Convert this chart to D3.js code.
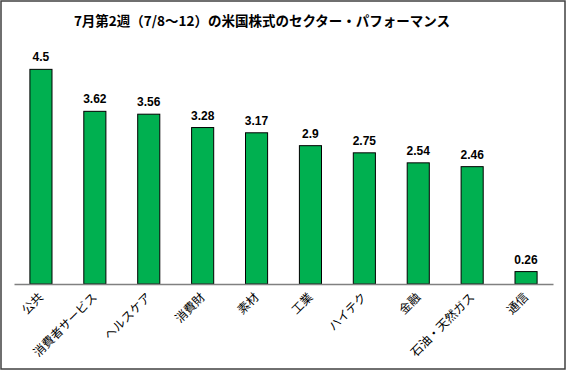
<!DOCTYPE html>
<html>
<head>
<meta charset="utf-8">
<script src="https://cdn.jsdelivr.net/npm/d3@7"></script>
<style>
  body { margin: 0; background: #fff; }
  svg text { font-family: "Liberation Sans", Arial, "Noto Sans CJK JP", sans-serif; }
</style>
</head>
<body>
<svg id="chart" width="567" height="371"></svg>
<script>
// sector performance, week 2 of July
var sectors = ["公共", "消費者サービス", "ヘルスケア", "消費財", "素材", "工業",
               "ハイテク", "金融", "石油・天然ガス", "通信"];
var returns = [4.5, 3.62, 3.56, 3.28, 3.17, 2.9, 2.75, 2.54, 2.46, 0.26];
var title = "7月第2週（7/8～12）の米国株式のセクター・パフォーマンス";

var svg = d3.select("#chart");
var W = 567, H = 371;
var left = 14, right = 553, base = 284;

svg.append("rect")
  .attr("x", 1).attr("y", 1).attr("width", W - 3).attr("height", H - 3)
  .attr("fill", "none").attr("stroke", "#404040").attr("stroke-width", 1.5);

svg.append("text")
  .attr("x", 262).attr("y", 26)
  .attr("text-anchor", "middle")
  .style("font-family", "'Noto Sans CJK JP', sans-serif")
  .style("font-size", "13.5px").style("font-weight", "bold")
  .text(title);

var x = d3.scaleBand().domain(sectors).range([left, right]).paddingInner(0.59).paddingOuter(0.295);
var y = d3.scaleLinear().domain([0, 5]).range([base, base - 238.5]);

var data = sectors.map(function(s, i) { return { name: s, v: returns[i] }; });

svg.selectAll("rect.bar").data(data).enter().append("rect")
  .attr("class", "bar")
  .attr("x", function(d) { return x(d.name); })
  .attr("y", function(d) { return y(d.v); })
  .attr("width", x.bandwidth())
  .attr("height", function(d) { return base - y(d.v); })
  .attr("fill", "#00b050").attr("stroke", "#000").attr("stroke-width", 1);

svg.selectAll("text.val").data(data).enter().append("text")
  .attr("class", "val")
  .attr("x", function(d) { return x(d.name) + x.bandwidth() / 2; })
  .attr("y", function(d) { return y(d.v) - 8; })
  .attr("text-anchor", "middle")
  .style("font-size", "12px").style("font-weight", "bold")
  .text(function(d) { return d.v; });

var axis = d3.axisBottom(x).tickSize(0).tickPadding(0);
var g = svg.append("g").attr("transform", "translate(0," + base + ")").call(axis);
g.select(".domain").attr("stroke", "#808080").attr("stroke-width", 1.5);
g.selectAll(".tick text")
  .attr("text-anchor", "end")
  .attr("dy", 0)
  .attr("transform", "translate(3,14) rotate(-45)")
  .style("font-family", "'Noto Sans CJK JP', sans-serif")
  .style("font-size", "12px").attr("fill", "#000");
</script>
</body>
</html>
